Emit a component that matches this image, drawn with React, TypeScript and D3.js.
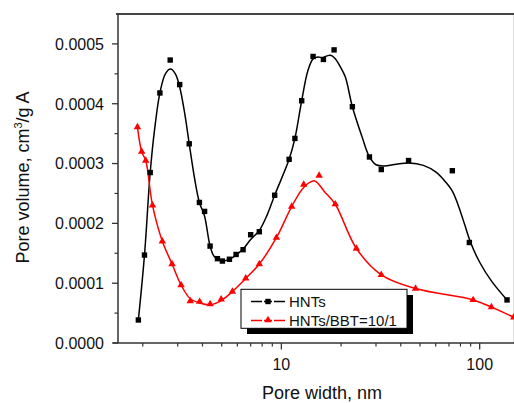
import React from "react";
import * as d3 from "d3";

// Measured points (pore width nm, pore volume)
const hntsWidth = [1.90, 2.04, 2.18, 2.44, 2.75, 3.07, 3.43, 3.86, 4.10, 4.37, 4.76, 5.04, 5.47, 5.91, 6.41, 7.0, 7.74, 9.25, 10.94, 11.7, 12.66, 14.45, 16.29, 18.44, 22.8, 27.8, 31.9, 43.8, 72.8, 88.7, 137.4];
const hntsVolume = [0.0000385, 0.000147, 0.000285, 0.000418, 0.000473, 0.000432, 0.000333, 0.000235, 0.000220, 0.000162, 0.000141, 0.000137, 0.000140, 0.000148, 0.000156, 0.000181, 0.000186, 0.000247, 0.000307, 0.000342, 0.000405, 0.000479, 0.000474, 0.000490, 0.000395, 0.000311, 0.000290, 0.000305, 0.000288, 0.000168, 0.000072];

const bbtWidth = [1.88, 1.975, 2.07, 2.24, 2.51, 2.81, 3.12, 3.47, 3.87, 4.37, 4.97, 5.66, 6.61, 7.74, 9.44, 11.27, 12.96, 15.5, 18.7, 23.9, 31.9, 47.5, 92.7, 114.6, 148.5];
const bbtVolume = [0.000361, 0.000320, 0.000305, 0.000230, 0.000170, 0.000132, 0.000097, 0.000070, 0.000069, 0.000065, 0.000073, 0.000086, 0.000108, 0.000132, 0.000176, 0.000228, 0.000265, 0.000280, 0.000232, 0.000158, 0.000114, 0.000091, 0.000072, 0.000060, 0.000043];

// Fitted smooth curves
const hntsFitWidth = [1.90, 2.04, 2.18, 2.30, 2.44, 2.60, 2.76, 2.92, 3.07, 3.25, 3.43, 3.65, 3.86, 4.10, 4.37, 4.60, 5.04, 5.47, 5.91, 6.41, 7.0, 7.74, 8.5, 9.25, 10.94, 11.7, 12.66, 13.6, 14.45, 15.3, 16.1, 17.0, 17.7, 18.6, 19.8, 21.0, 22.8, 25.5, 27.8, 30, 33, 38, 44, 52, 60, 67, 72.8, 78, 84, 90, 100, 115, 137.4];
const hntsFitVolume = [0.0000385, 0.000147, 0.000285, 0.000360, 0.000418, 0.000450, 0.000458, 0.000450, 0.000428, 0.000385, 0.000333, 0.000275, 0.000235, 0.000212, 0.000162, 0.000144, 0.000137, 0.000140, 0.000147, 0.000157, 0.000173, 0.000188, 0.000215, 0.000247, 0.000307, 0.000342, 0.000405, 0.000455, 0.000475, 0.000478, 0.000477, 0.000480, 0.000481, 0.000476, 0.000462, 0.000445, 0.000395, 0.000345, 0.000311, 0.000298, 0.000296, 0.000299, 0.000301, 0.000297, 0.000286, 0.000270, 0.000254, 0.000230, 0.000198, 0.000168, 0.000135, 0.000103, 0.000072];

const bbtFitWidth = [1.88, 1.975, 2.07, 2.24, 2.51, 2.81, 3.12, 3.47, 3.87, 4.37, 4.97, 5.66, 6.61, 7.74, 9.44, 11.27, 12.96, 14.7, 16.5, 18.7, 23.9, 31.9, 47.5, 92.7, 114.6, 148.5];
const bbtFitVolume = [0.000361, 0.000320, 0.000305, 0.000230, 0.000170, 0.000132, 0.000097, 0.000074, 0.000067, 0.000064, 0.000071, 0.000086, 0.000108, 0.000132, 0.000176, 0.000228, 0.000260, 0.000271, 0.000253, 0.000232, 0.000158, 0.000114, 0.000091, 0.000072, 0.000060, 0.000043];

const yTicks = [0, 0.0001, 0.0002, 0.0003, 0.0004, 0.0005];
const yMinorTicks = [0.00005, 0.00015, 0.00025, 0.00035, 0.00045];
const xTicks = [10, 100];
const xMinorTicks = [2, 3, 4, 5, 6, 7, 8, 9, 20, 30, 40, 50, 60, 70, 80, 90];
const seriesNames = ["HNTs", "HNTs/BBT=10/1"];

const FONT = "'Liberation Sans', Arial, sans-serif";

export default function App() {
  const W = 514, H = 403;
  const left = 118, right = 514.6, top = 14, bottom = 343;
  const x = d3.scaleLog().domain([1.5, 150]).range([left, right]);
  const y = d3.scaleLinear().domain([0, 0.00055]).range([bottom, top]);
  const fmt = d3.format(".4f");

  const line = d3.line<[number, number]>()
    .x(d => x(d[0]))
    .y(d => y(d[1]))
    .curve(d3.curveCatmullRom.alpha(0.5));

  const hntsFit: [number, number][] = hntsFitWidth.map((w, i) => [w, hntsFitVolume[i]]);
  const bbtFit: [number, number][] = bbtFitWidth.map((w, i) => [w, bbtFitVolume[i]]);
  const tri = d3.symbol().type(d3.symbolTriangle).size(24)() as string;

  return (
    <div style={{ position: "fixed", left: 0, top: 0 }}>
      <svg width={W} height={H} style={{ display: "block", background: "#fff" }} fontFamily={FONT}>
        <defs>
          <clipPath id="plotclip">
            <rect x={left} y={top} width={right - left} height={bottom - top} />
          </clipPath>
        </defs>
        {/* frame */}
        <line x1={116} x2={right} y1={top} y2={top} stroke="#444" strokeWidth={1.8} />
        <line x1={right} x2={right} y1={top} y2={bottom} stroke="#333" strokeWidth={1.5} />
        <line x1={left} x2={left} y1={top} y2={bottom} stroke="#333" strokeWidth={1.5} />
        <line x1={113} x2={right} y1={bottom} y2={bottom} stroke="#333" strokeWidth={1.5} />

        {/* y ticks */}
        {yTicks.map(t => (
          <g key={"y" + t}>
            <line x1={left - 6} x2={left} y1={y(t)} y2={y(t)} stroke="#333" strokeWidth={1.3} />
            <text x={104} y={y(t) + 5.8} textAnchor="end" fontSize={16} fill="#111">{fmt(t)}</text>
          </g>
        ))}
        {yMinorTicks.map(t => (
          <line key={"ym" + t} x1={left - 3.5} x2={left} y1={y(t)} y2={y(t)} stroke="#333" strokeWidth={1.2} />
        ))}
        {/* x ticks */}
        {xTicks.map(t => (
          <g key={"x" + t}>
            <line x1={x(t)} x2={x(t)} y1={bottom} y2={bottom + 6.5} stroke="#333" strokeWidth={1.3} />
            <text x={x(t)} y={370} textAnchor="middle" fontSize={16} fill="#111">{t}</text>
          </g>
        ))}
        {xMinorTicks.map(t => (
          <line key={"xm" + t} x1={x(t)} x2={x(t)} y1={bottom} y2={bottom + 3.5} stroke="#333" strokeWidth={1.2} />
        ))}

        {/* axis titles */}
        <text x={322} y={399} textAnchor="middle" fontSize={18} fill="#111">Pore width, nm</text>
        <text transform={`translate(29,177.5) rotate(-90)`} textAnchor="middle" fontSize={18} fill="#111">
          Pore volume, cm<tspan dy={-7} fontSize={11}>3</tspan><tspan dy={7}>/g A</tspan>
        </text>

        {/* curves */}
        <g clipPath="url(#plotclip)">
          <path d={line(hntsFit) || ""} fill="none" stroke="#000" strokeWidth={1.5} />
          <path d={line(bbtFit) || ""} fill="none" stroke="#f00" strokeWidth={1.5} />
        </g>
        {hntsWidth.map((w, i) => (
          <rect key={"s" + i} x={x(w) - 2.7} y={y(hntsVolume[i]) - 2.7} width={5.4} height={5.4} fill="#000" />
        ))}
        {bbtWidth.map((w, i) => (
          <path key={"t" + i} d={tri} transform={`translate(${x(w)},${y(bbtVolume[i])})`} fill="#f00" />
        ))}

        {/* legend */}
        <rect x={247} y={295} width={166} height={39} fill="#000" />
        <rect x={241} y={289.3} width={166} height={39} fill="#fff" stroke="#000" strokeWidth={1} />
        <line x1={251} x2={285} y1={301.5} y2={301.5} stroke="#000" strokeWidth={1.5} />
        <rect x={268 - 2.7} y={301.5 - 2.7} width={5.4} height={5.4} fill="#000" />
        <rect x={262} y={298} width={2} height={7} fill="#fff" />
        <rect x={272} y={298} width={2} height={7} fill="#fff" />
        <text x={289} y={307} fontSize={15} fill="#111">{seriesNames[0]}</text>
        <line x1={251} x2={285} y1={320.5} y2={320.5} stroke="#f00" strokeWidth={1.5} />
        <rect x={262} y={316} width={2} height={7} fill="#fff" />
        <rect x={272} y={316} width={2} height={7} fill="#fff" />
        <path d={tri} transform={`translate(268,320)`} fill="#f00" />
        <text x={289} y={326} fontSize={15} fill="#111">{seriesNames[1]}</text>
      </svg>
    </div>
  );
}
